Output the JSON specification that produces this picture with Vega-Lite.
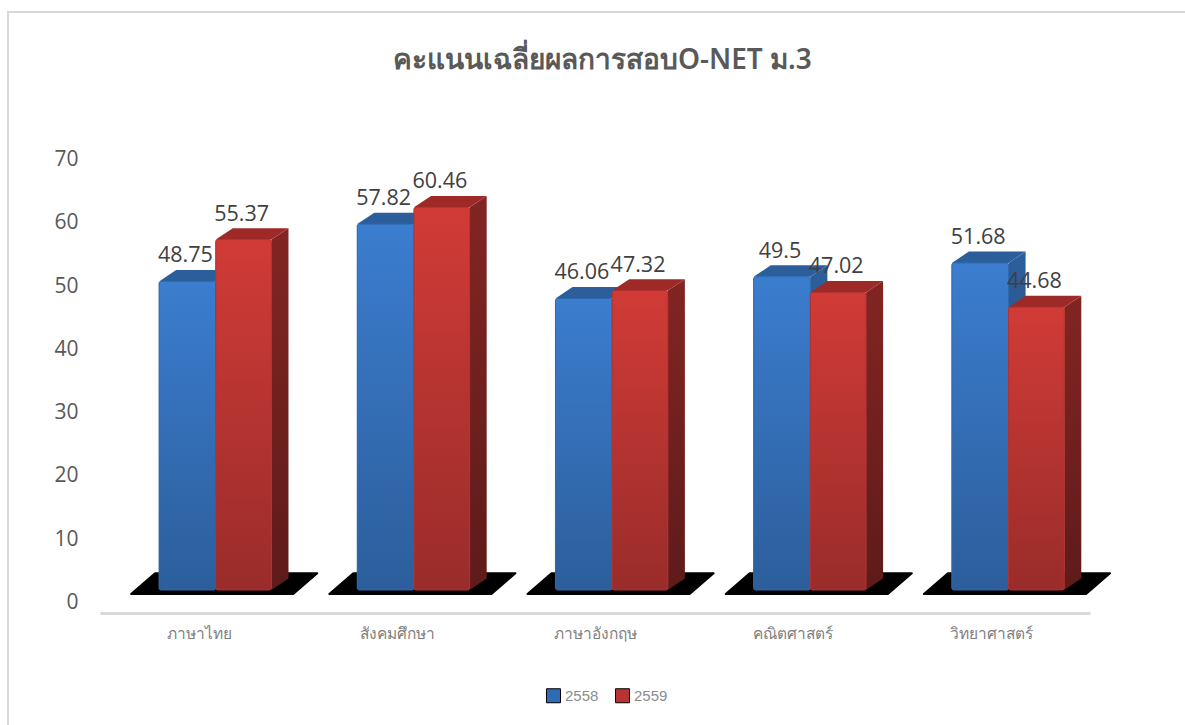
{"$schema":"https://vega.github.io/schema/vega-lite/v6.json","autosize":"none","padding":{"left":8,"top":12,"right":0,"bottom":0},"width":1185,"height":720,"background":"white","view":{"stroke":"#d9d9d9","strokeWidth":2,"fill":"white"},
"data":{"values":[
{"subject":"ภาษาไทย","year":"2558","score":48.75},{"subject":"ภาษาไทย","year":"2559","score":55.37},
{"subject":"สังคมศึกษา","year":"2558","score":57.82},{"subject":"สังคมศึกษา","year":"2559","score":60.46},
{"subject":"ภาษาอังกฤษ","year":"2558","score":46.06},{"subject":"ภาษาอังกฤษ","year":"2559","score":47.32},
{"subject":"คณิตศาสตร์","year":"2558","score":49.5},{"subject":"คณิตศาสตร์","year":"2559","score":47.02},
{"subject":"วิทยาศาสตร์","year":"2558","score":51.68},{"subject":"วิทยาศาสตร์","year":"2559","score":44.68}]},
"transform":[
{"calculate":"indexof(['ภาษาไทย','สังคมศึกษา','ภาษาอังกฤษ','คณิตศาสตร์','วิทยาศาสตร์'],datum.subject)","as":"i"},
{"calculate":"datum.i+(datum.year=='2558'?0.298:0.584)","as":"x0"},
{"calculate":"datum.x0+(datum.year=='2558'?0.286:0.281)","as":"x1"},
{"calculate":"datum.score+1.74","as":"top"},
{"calculate":"datum.subject+datum.year","as":"bar"}],
"resolve":{"scale":{"x":"independent"},"axis":{"x":"independent"}},
"layer":[
{"mark":{"type":"bar","opacity":0},"encoding":{
"x":{"field":"subject","type":"nominal","sort":null,"scale":{"type":"band","domain":["ภาษาไทย","สังคมศึกษา","ภาษาอังกฤษ","คณิตศาสตร์","วิทยาศาสตร์"],"range":[92,1082]},"axis":{"title":null,"orient":"bottom","offset":-119,"labelAngle":0,"labelFont":"Noto Sans","labelFontSize":15.5,"labelColor":"#7f7f7f","labelPadding":13,"ticks":false,"domainColor":"#d9d9d9","domainWidth":3}},
"y":{"field":"score","type":"quantitative","scale":{"domain":[0,70],"range":[589,146],"nice":false},"axis":{"title":null,"values":[0,10,20,30,40,50,60,70],"grid":false,"ticks":false,"domain":false,"offset":-70,"labelPadding":0,"labelOffset":1.5,"labelFont":"Open Sans","labelFontSize":21,"labelColor":"#595959"}}}},
{"transform":[{"filter":"datum.year=='2558'"},{"calculate":"[0,1,2,3]","as":"c"},{"flatten":["c"]},{"calculate":"datum.i+[0.157,0.278,0.975,1.096][datum.c]","as":"sx"},{"calculate":"datum.c==0?1.1:4.4","as":"sy"},{"calculate":"datum.c==3?4.4:1.1","as":"sy2"}],
"mark":{"type":"area","color":"black","stroke":"black","strokeWidth":2,"strokeJoin":"round"},"encoding":{
"x":{"field":"sx","type":"quantitative","scale":{"domain":[0,5],"range":[92,1083],"nice":false,"zero":false},"axis":null},
"y":{"field":"sy","type":"quantitative","stack":null},"y2":{"field":"sy2"},"detail":{"field":"subject"}}},
{"transform":[{"filter":"datum.year=='2558'"},{"calculate":"[0,1]","as":"c"},{"flatten":["c"]},{"calculate":"datum.x1+datum.c*0.086","as":"sx"},{"calculate":"datum.top+datum.c*1.8","as":"sy"},{"calculate":"1.74+datum.c*1.8","as":"sy2"}],
"mark":{"type":"area","color":{"gradient":"linear","x1":0,"y1":0,"x2":0,"y2":1,"stops":[{"offset":0,"color":"#2d5f9c"},{"offset":1,"color":"#1f4674"}]}},"encoding":{
"x":{"field":"sx","type":"quantitative","scale":{"domain":[0,5],"range":[92,1083],"nice":false,"zero":false},"axis":null},
"y":{"field":"sy","type":"quantitative","stack":null},"y2":{"field":"sy2"},"detail":{"field":"bar"}}},
{"transform":[{"filter":"datum.year=='2558'"},{"calculate":"[0,1,2,3]","as":"c"},{"flatten":["c"]},{"calculate":"[datum.x0,datum.x0+0.086,datum.x1,datum.x1+0.086][datum.c]","as":"sx"},{"calculate":"datum.c==0?datum.top:datum.top+1.8","as":"sy"},{"calculate":"datum.c==3?datum.top+1.8:datum.top","as":"sy2"}],
"mark":{"type":"area","color":"#2c5e9b"},"encoding":{
"x":{"field":"sx","type":"quantitative","scale":{"domain":[0,5],"range":[92,1083],"nice":false,"zero":false},"axis":null},
"y":{"field":"sy","type":"quantitative","stack":null},"y2":{"field":"sy2"},"detail":{"field":"bar"}}},
{"transform":[{"filter":"datum.year=='2559'"},{"calculate":"[0,1]","as":"c"},{"flatten":["c"]},{"calculate":"datum.x1+datum.c*0.086","as":"sx"},{"calculate":"datum.top+datum.c*1.8","as":"sy"},{"calculate":"1.74+datum.c*1.8","as":"sy2"}],
"mark":{"type":"area","color":{"gradient":"linear","x1":0,"y1":0,"x2":0,"y2":1,"stops":[{"offset":0,"color":"#822523"},{"offset":1,"color":"#5e1b1a"}]}},"encoding":{
"x":{"field":"sx","type":"quantitative","scale":{"domain":[0,5],"range":[92,1083],"nice":false,"zero":false},"axis":null},
"y":{"field":"sy","type":"quantitative","stack":null},"y2":{"field":"sy2"},"detail":{"field":"bar"}}},
{"transform":[{"filter":"datum.year=='2559'"},{"calculate":"[0,1,2,3]","as":"c"},{"flatten":["c"]},{"calculate":"[datum.x0,datum.x0+0.086,datum.x1,datum.x1+0.086][datum.c]","as":"sx"},{"calculate":"datum.c==0?datum.top:datum.top+1.8","as":"sy"},{"calculate":"datum.c==3?datum.top+1.8:datum.top","as":"sy2"}],
"mark":{"type":"area","color":"#9e2a28"},"encoding":{
"x":{"field":"sx","type":"quantitative","scale":{"domain":[0,5],"range":[92,1083],"nice":false,"zero":false},"axis":null},
"y":{"field":"sy","type":"quantitative","stack":null},"y2":{"field":"sy2"},"detail":{"field":"bar"}}},
{"transform":[{"calculate":"1.74","as":"base"}],"mark":{"type":"rect","cornerRadius":2},"encoding":{
"x":{"field":"x0","type":"quantitative","scale":{"domain":[0,5],"range":[92,1083],"nice":false,"zero":false},"axis":null},"x2":{"field":"x1"},
"y":{"field":"top","type":"quantitative"},"y2":{"field":"base"},
"fill":{"field":"year","type":"nominal","title":null,"scale":{"domain":["2558","2559"],"range":["#2f6cb5","#b83331"]},
"legend":{"orient":"none","legendX":538,"legendY":676,"direction":"horizontal","title":null,"symbolType":"square","symbolSize":196,"symbolStrokeColor":"black","symbolStrokeWidth":1,"labelFont":"Liberation Sans","labelFontSize":15,"labelColor":"#8c8c8c","columnPadding":14,"labelOffset":4}}}},
{"transform":[{"calculate":"1.74","as":"base"},{"filter":"datum.year=='2558'"}],"mark":{"type":"rect","cornerRadius":2,"stroke":"#2f69ad","strokeWidth":1,"fill":{"gradient":"linear","x1":0,"y1":0,"x2":0,"y2":1,"stops":[{"offset":0,"color":"#3b7dcf"},{"offset":1,"color":"#2c5e9b"}]}},"encoding":{
"x":{"field":"x0","type":"quantitative","scale":{"domain":[0,5],"range":[92,1083],"nice":false,"zero":false},"axis":null},"x2":{"field":"x1"},
"y":{"field":"top","type":"quantitative"},"y2":{"field":"base"}}},
{"transform":[{"calculate":"1.74","as":"base"},{"filter":"datum.year=='2559'"}],"mark":{"type":"rect","cornerRadius":2,"stroke":"#b33230","strokeWidth":1,"fill":{"gradient":"linear","x1":0,"y1":0,"x2":0,"y2":1,"stops":[{"offset":0,"color":"#d13b37"},{"offset":1,"color":"#992c2a"}]}},"encoding":{
"x":{"field":"x0","type":"quantitative","scale":{"domain":[0,5],"range":[92,1083],"nice":false,"zero":false},"axis":null},"x2":{"field":"x1"},
"y":{"field":"top","type":"quantitative"},"y2":{"field":"base"}}},
{"transform":[{"calculate":"(datum.x0+datum.x1)/2-0.01","as":"lx"}],"mark":{"type":"text","dy":-25,"font":"Open Sans","fontSize":21.5,"color":"#404040"},"encoding":{
"x":{"field":"lx","type":"quantitative","scale":{"domain":[0,5],"range":[92,1083],"nice":false,"zero":false},"axis":null},
"y":{"field":"top","type":"quantitative"},"text":{"field":"score","type":"quantitative"}}},
{"data":{"values":[{"label":"คะแนนเฉลี่ยผลการสอบO-NET ม.3","px":2.535,"py":85.4}]},"transform":[],"mark":{"type":"text","font":"Noto Sans","fontSize":28,"fontWeight":600,"color":"#595959","clip":false},"encoding":{
"x":{"field":"px","type":"quantitative","scale":{"domain":[0,5],"range":[92,1083],"nice":false,"zero":false},"axis":null},
"y":{"field":"py","type":"quantitative"},"text":{"field":"label"}}}
]}
